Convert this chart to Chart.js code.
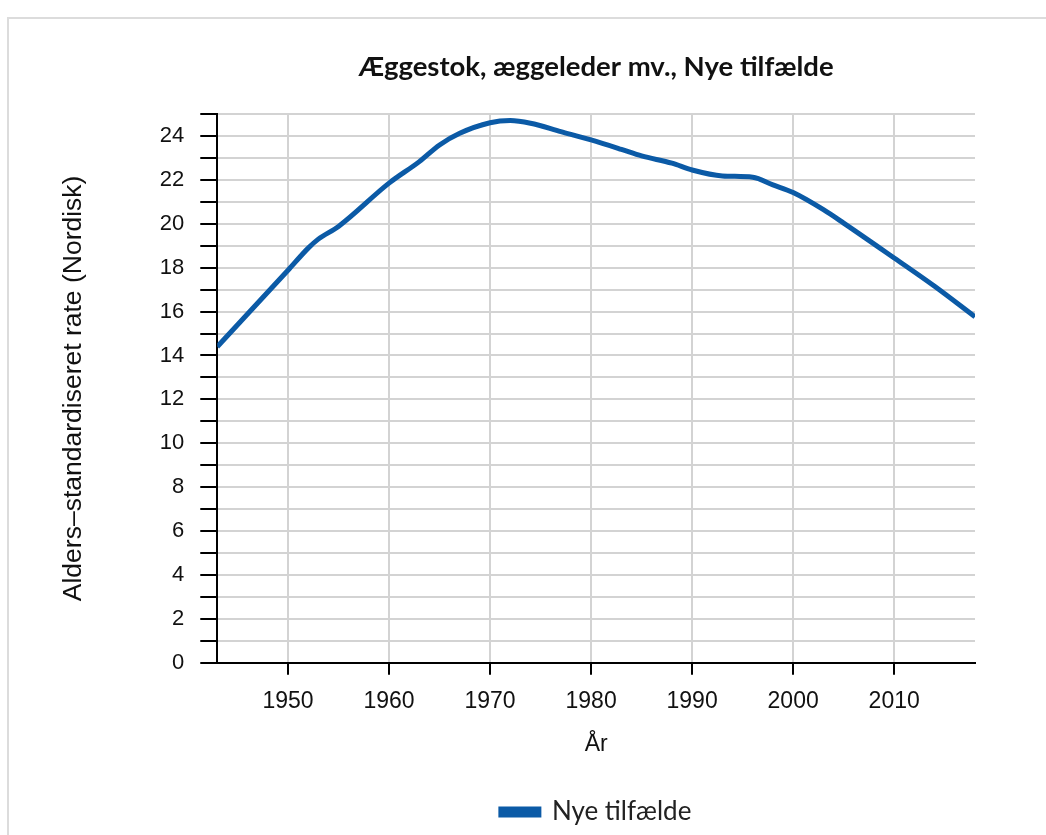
<!DOCTYPE html>
<html>
<head>
  <meta charset="utf-8">
  <title>Æggestok, æggeleder mv.</title>
  <script src="https://cdn.jsdelivr.net/npm/chart.js@4/dist/chart.umd.min.js"></script>
  <style>
    body { margin: 0; background: #fff; overflow: hidden; }
    /* grey frame around the chart */
    #frame {
      position: absolute; left: 7px; top: 17px;
      width: 1100px; height: 900px;
      border: 2px solid #dcdcdc;
    }
    #wrap { position: absolute; left: 0; top: 0; width: 1046px; height: 835px; }
  </style>
</head>
<body>
  <div id="frame"></div>
  <div id="wrap"><canvas id="canvas"></canvas></div>

  <script>
    // values
    const years = [1943, 1950, 1952, 1953, 1955, 1960, 1963, 1965, 1967, 1970, 1972, 1974, 1977,
      1980, 1983, 1985, 1988, 1990, 1993, 1996, 1998, 2000, 2003, 2005, 2010, 2014, 2018];
    const rates = [14.4, 17.88, 18.89, 19.3, 19.88, 21.85, 22.83, 23.59, 24.12, 24.6, 24.7, 24.58, 24.2,
      23.82, 23.39, 23.09, 22.76, 22.45, 22.18, 22.12, 21.77, 21.42, 20.64, 20.03, 18.44, 17.15, 15.76];
    const decadeTicks = [1950, 1960, 1970, 1980, 1990, 2000, 2010];

    const points = years.map((y, i) => ({ x: y, y: rates[i] }));
    const blue = '#0b5aa6';

    new Chart(document.getElementById('canvas'), {
      type: 'line',
      data: {
        datasets: [{
          label: 'Nye tilfælde',
          data: points,
          borderColor: blue,
          backgroundColor: blue,
          borderWidth: 5,
          pointRadius: 0,
          cubicInterpolationMode: 'monotone'
        }]
      },
      options: {
        responsive: true,
        maintainAspectRatio: false,
        animation: false,
        layout: { padding: { left: 58, right: 71, top: 51, bottom: 0 } },
        plugins: {
          title: {
            display: true,
            fullSize: false,
            text: 'Æggestok, æggeleder mv., Nye tilfælde',
            color: '#111',
            font: { family: 'Lato', size: 27.5, weight: 'bold' },
            padding: { top: 0, bottom: 30 }
          },
          legend: {
            position: 'bottom',
            fullSize: false,
            labels: {
              color: '#222',
              boxWidth: 38,
              boxHeight: 6,
              padding: 6,
              font: { family: 'Lato', size: 26 }
            }
          },
          tooltip: { enabled: false }
        },
        scales: {
          x: {
            type: 'linear',
            min: 1943,
            max: 2018,
            afterBuildTicks: axis => { axis.ticks = decadeTicks.map(v => ({ value: v })); },
            grid: { color: '#d3d3d3', lineWidth: 2, tickColor: '#000', tickLength: 12, tickWidth: 2 },
            border: { color: '#000', width: 2 },
            ticks: {
              color: '#111',
              padding: 13,
              maxRotation: 0,
              font: { family: 'Liberation Sans', size: 23 },
              callback: v => String(v)
            },
            title: {
              display: true, text: 'År', color: '#111',
              font: { family: 'Liberation Sans', size: 23 },
              padding: { top: 2, bottom: 35 }
            }
          },
          y: {
            min: 0,
            max: 25,
            ticks: {
              stepSize: 1,
              autoSkip: false,
              color: '#111',
              padding: 16,
              font: { family: 'Liberation Sans', size: 22 },
              callback: v => (v % 2 === 0 ? String(v) : '')
            },
            grid: { color: '#d3d3d3', lineWidth: 2, tickColor: '#000', tickLength: 17, tickWidth: 2 },
            border: { color: '#000', width: 2 },
            title: {
              display: true, text: 'Alders–standardiseret rate (Nordisk)', color: '#111',
              font: { family: 'Liberation Sans', size: 26.5 },
              padding: { top: 0, bottom: 54 }
            }
          }
        }
      }
    });
  </script>
</body>
</html>
